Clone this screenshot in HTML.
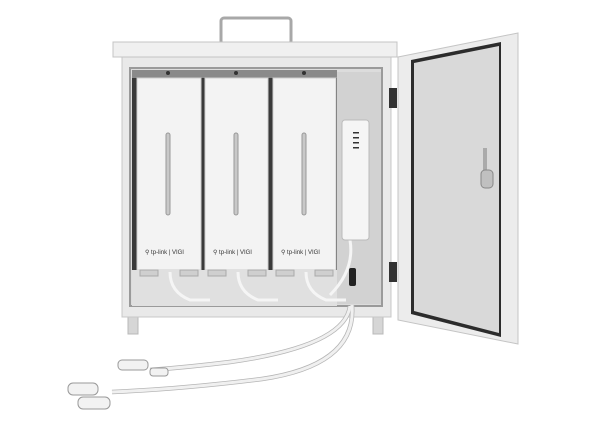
<!DOCTYPE html>
<html><head><style>html,body{margin:0;padding:0;background:#fff}svg{display:block}</style></head>
<body>
<svg width="600" height="428" viewBox="0 0 600 428" xmlns="http://www.w3.org/2000/svg" font-family="Liberation Sans, sans-serif">
<rect x="221" y="18" width="70" height="26" rx="3" fill="none" stroke="#a8a8a8" stroke-width="3"/>
<rect x="128" y="310" width="10" height="24" fill="#d6d6d6" stroke="#b8b8b8"/>
<rect x="373" y="310" width="10" height="24" fill="#d6d6d6" stroke="#b8b8b8"/>
<rect x="122" y="55" width="269" height="262" fill="#e9e9e9" stroke="#c8c8c8"/>
<rect x="113" y="42" width="284" height="15" fill="#f0f0f0" stroke="#c4c4c4"/>
<rect x="130" y="68" width="252" height="238" fill="#dcdcdc" stroke="#9a9a9a" stroke-width="2"/>
<rect x="132" y="70" width="205" height="200" fill="#3a3a3a"/>
<rect x="132" y="70" width="205" height="8" fill="#8a8a8a"/>
<g fill="#333"><circle cx="168" cy="73" r="2"/><circle cx="236" cy="73" r="2"/><circle cx="304" cy="73" r="2"/></g>
<rect x="337" y="72" width="44" height="232" fill="#d2d2d2"/>
<g fill="#f3f3f3" stroke="#cfcfcf">
<rect x="137" y="78" width="64" height="192"/>
<rect x="205" y="78" width="63" height="192"/>
<rect x="273" y="78" width="63" height="192"/>
</g>
<g fill="#c8c8c8" stroke="#999">
<rect x="166" y="133" width="4" height="82" rx="2"/>
<rect x="234" y="133" width="4" height="82" rx="2"/>
<rect x="302" y="133" width="4" height="82" rx="2"/>
</g>
<g font-size="6" fill="#333">
<text x="145" y="254">⚲ tp-link | VIGI</text>
<text x="213" y="254">⚲ tp-link | VIGI</text>
<text x="281" y="254">⚲ tp-link | VIGI</text>
</g>
<rect x="132" y="270" width="205" height="36" fill="#e0e0e0"/>
<g fill="#cfcfcf" stroke="#aaa"><rect x="140" y="270" width="18" height="6"/><rect x="180" y="270" width="18" height="6"/><rect x="208" y="270" width="18" height="6"/><rect x="248" y="270" width="18" height="6"/><rect x="276" y="270" width="18" height="6"/><rect x="315" y="270" width="18" height="6"/></g>
<g fill="none" stroke="#f5f5f5" stroke-width="3"><path d="M170 272 q0 20 20 28 h20"/><path d="M238 272 q0 20 20 28 h20"/><path d="M306 272 q0 20 20 28 h20"/><path d="M350 240 q5 30 -20 55"/></g>
<rect x="342" y="120" width="27" height="120" rx="3" fill="#f5f5f5" stroke="#bbb"/>
<g fill="#333"><rect x="353" y="132" width="6" height="1.5"/><rect x="353" y="137" width="6" height="1.5"/><rect x="353" y="142" width="6" height="1.5"/><rect x="353" y="147" width="6" height="1.5"/></g>
<rect x="349" y="268" width="7" height="18" rx="2" fill="#222"/>
<rect x="389" y="88" width="8" height="20" fill="#333"/>
<rect x="389" y="262" width="8" height="20" fill="#333"/>
<polygon points="398,57 518,33 518,344 398,320" fill="#ececec" stroke="#c4c4c4"/>
<polygon points="411,60 501,42 501,337 411,314" fill="#2c2c2c"/>
<polygon points="414,63 499,46 499,333 414,311" fill="#d9d9d9"/>
<rect x="483" y="148" width="4" height="28" fill="#aaa"/>
<rect x="481" y="170" width="12" height="18" rx="4" fill="#c0c0c0" stroke="#888"/>
<g fill="none" stroke="#b5b5b5" stroke-width="4.5">
<path d="M352 305 q5 60 -90 74 q-80 10 -150 13"/>
<path d="M350 306 q-5 40 -120 56 q-40 5 -80 8"/>
</g>
<g fill="none" stroke="#f0f0f0" stroke-width="3">
<path d="M352 305 q5 60 -90 74 q-80 10 -150 13"/>
<path d="M350 306 q-5 40 -120 56 q-40 5 -80 8"/>
</g>
<g fill="#f2f2f2" stroke="#999">
<rect x="118" y="360" width="30" height="10" rx="4"/>
<rect x="150" y="368" width="18" height="8" rx="3"/>
<rect x="68" y="383" width="30" height="12" rx="5"/>
<rect x="78" y="397" width="32" height="12" rx="5"/>
</g>
</svg>
</body></html>
